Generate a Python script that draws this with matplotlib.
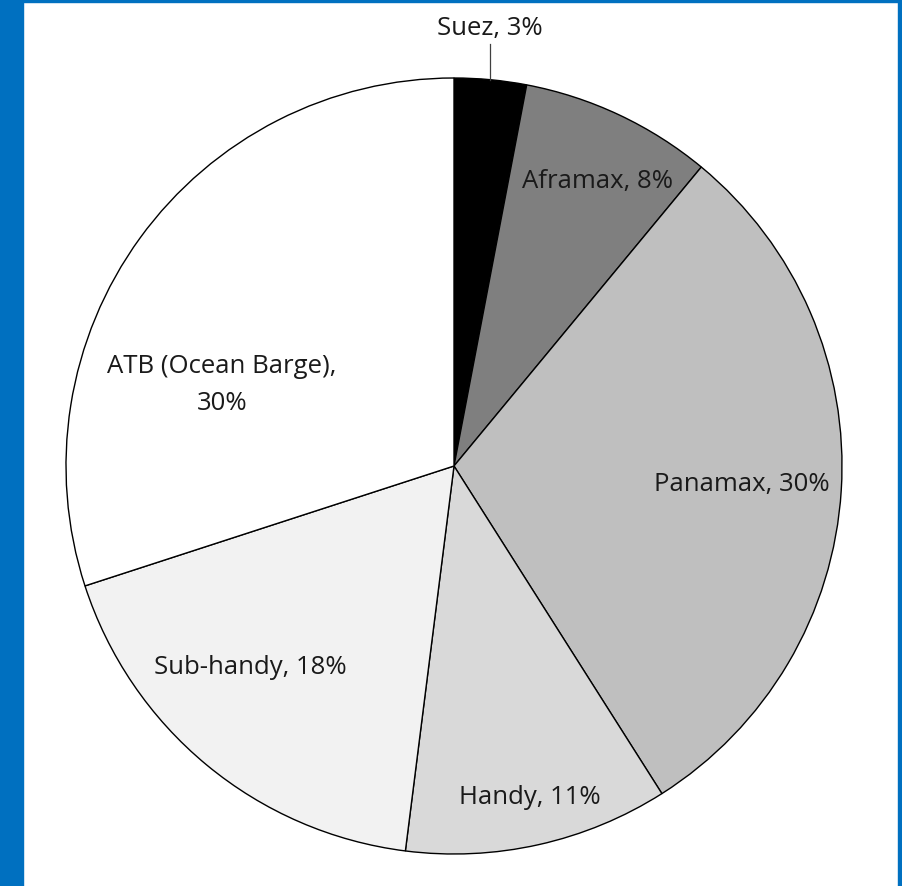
import matplotlib.pyplot as plt
from matplotlib.patches import Rectangle

# Fleet share by vessel class (percent)
classes = ["Suez", "Aframax", "Panamax", "Handy", "Sub-handy", "ATB (Ocean Barge)"]
shares = [3, 8, 30, 11, 18, 30]
fills = ["#000000", "#7f7f7f", "#bfbfbf", "#d9d9d9", "#f2f2f2", "#ffffff"]

# label anchor points in pie units (radius = 1)
label_xy = [(0.093, 1.131), (0.369, 0.735), (0.742, -0.046),
            (0.196, -0.853), (-0.526, -0.518), (-0.598, 0.211)]

plt.rcParams['font.family'] = ['Open Sans', 'DejaVu Sans']

W, H = 902, 887
fig = plt.figure(figsize=(W / 100, H / 100), dpi=100)
fig.patch.set_facecolor("white")

# blue frame
blue = "#0070c0"
fig.patches.append(Rectangle((0, 0), 23 / W, 1, transform=fig.transFigure, color=blue, zorder=0))
fig.patches.append(Rectangle((0, 1 - 3 / H), 1, 3 / H, transform=fig.transFigure, color=blue, zorder=0))
fig.patches.append(Rectangle((1 - 4 / W, 0), 4 / W, 1, transform=fig.transFigure, color=blue, zorder=0))

cx, cy, r = 454, 467, 388
ax = fig.add_axes([(cx - r) / W, 1 - (cy + r) / H, 2 * r / W, 2 * r / H])
ax.pie(shares, colors=fills, startangle=90, counterclock=False, radius=1,
       wedgeprops=dict(edgecolor="#000000", linewidth=1.0))
ax.set_xlim(-1, 1)
ax.set_ylim(-1, 1)
ax.set_aspect("equal")
ax.axis("off")

for name, pct, (x, y) in zip(classes, shares, label_xy):
    if name.startswith("ATB"):
        txt = f"{name},\n{pct}%"
    else:
        txt = f"{name}, {pct}%"
    ax.text(x, y, txt, ha="center", va="center", fontsize=18.5,
            color="#1a1a1a", linespacing=1.6, clip_on=False)

# leader line for the thin Suez slice
ax.plot([0.093, 0.093], [1.087, 0.994], color="#404040", linewidth=0.9, clip_on=False)

fig.savefig("out.png", dpi=100)
